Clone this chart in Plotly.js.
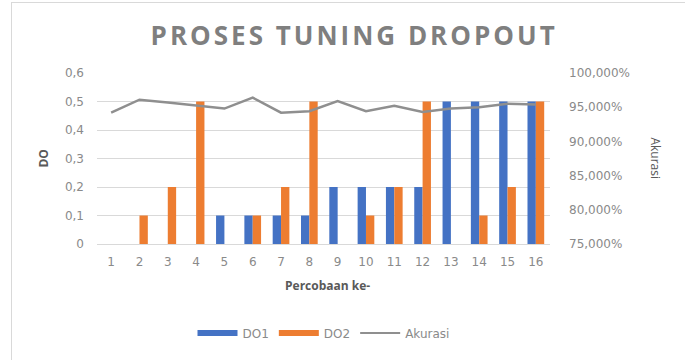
<!DOCTYPE html>
<html>
<head>
<meta charset="utf-8">
<script src="https://cdn.plot.ly/plotly-3.0.1.min.js"></script>
<style>
  html, body { margin: 0; padding: 0; background: #fff; }
  #chart { width: 685px; height: 360px; }
  #frame { position: absolute; left: 11px; top: 2px; width: 674px; height: 358px;
           border-top: 1px solid #d9d9d9; border-left: 1px solid #d9d9d9; pointer-events: none; }
  .gtitle { letter-spacing: 3px; }
</style>
</head>
<body>
<div id="chart"></div>
<div id="frame"></div>
<script>
const categories = ['1','2','3','4','5','6','7','8','9','10','11','12','13','14','15','16'];
const do1 = [0, 0, 0, 0, 0.1, 0.1, 0.1, 0.1, 0.2, 0.2, 0.2, 0.2, 0.5, 0.5, 0.5, 0.5];
const do2 = [0, 0.1, 0.2, 0.5, 0, 0.1, 0.2, 0.5, 0, 0.1, 0.2, 0.5, 0, 0.1, 0.2, 0.5];
const akurasi = [0.942, 0.961, 0.957, 0.952, 0.948, 0.964, 0.942, 0.944, 0.959, 0.944, 0.952, 0.943, 0.948, 0.950, 0.955, 0.954];
const seriesNames = ['DO1', 'DO2', 'Akurasi'];
const seriesColors = ['#4472c4', '#ed7d31', '#8f8f8f'];

const tickFont = { family: 'DejaVu Sans', size: 12, color: '#8a8a8a' };
const titleFont = { family: 'Open Sans', size: 12, color: '#595959', weight: 'bold' };

const traces = [
  { type: 'bar', name: seriesNames[0], x: categories, y: do1, marker: { color: seriesColors[0] }, yaxis: 'y', showlegend: false },
  { type: 'bar', name: seriesNames[1], x: categories, y: do2, marker: { color: seriesColors[1] }, yaxis: 'y', showlegend: false },
  { type: 'scatter', mode: 'lines', name: seriesNames[2], x: categories, y: akurasi,
    line: { color: seriesColors[2], width: 2.5 }, yaxis: 'y2', showlegend: false },
  // legend keys (Excel-style wide swatches)
  { type: 'scatter', mode: 'lines', name: seriesNames[0], x: [null], y: [null], line: { color: seriesColors[0], width: 6 }, hoverinfo: 'skip' },
  { type: 'scatter', mode: 'lines', name: seriesNames[1], x: [null], y: [null], line: { color: seriesColors[1], width: 6 }, hoverinfo: 'skip' },
  { type: 'scatter', mode: 'lines', name: seriesNames[2], x: [null], y: [null], line: { color: seriesColors[2], width: 2 }, hoverinfo: 'skip' }
];

const layout = {
  width: 685, height: 360,
  margin: { l: 97, r: 135, t: 73, b: 107 },
  paper_bgcolor: '#ffffff', plot_bgcolor: '#ffffff',
  barmode: 'group', bargap: 0.41, bargroupgap: 0,
  separators: ',.',
  showlegend: true,
  title: {
    text: 'PROSES TUNING DROPOUT',
    font: { family: 'Open Sans', size: 26, color: '#7f7f7f', weight: 'bold' },
    x: 0.517, xanchor: 'center', y: 0.9, yanchor: 'middle'
  },
  xaxis: {
    type: 'category', tickfont: tickFont, showgrid: false,
    showline: true, linecolor: '#d9d9d9', linewidth: 1,
    ticks: '', ticklabelstandoff: 7, fixedrange: true
  },
  yaxis: {
    range: [0, 0.6], dtick: 0.1, tickfont: tickFont,
    showgrid: true, gridcolor: '#d9d9d9', gridwidth: 1,
    zeroline: true, zerolinecolor: '#d9d9d9', zerolinewidth: 1,
    showline: false, ticks: '', ticklabelstandoff: 12
  },
  yaxis2: {
    overlaying: 'y', side: 'right', range: [0.75, 1.0], dtick: 0.05,
    tickformat: '.3%', tickfont: tickFont, showgrid: false, zeroline: false,
    showline: false, ticks: '', ticklabelstandoff: 18
  },
  legend: {
    orientation: 'h', x: 0.5, xanchor: 'center', y: -0.52, yanchor: 'middle',
    font: { family: 'DejaVu Sans', size: 12, color: '#8a8a8a' },
    itemwidth: 40, traceorder: 'normal'
  },
  annotations: [
    { text: 'DO', xref: 'paper', yref: 'paper', x: -0.119, y: 0.5, textangle: -90,
      showarrow: false, font: titleFont, xanchor: 'center', yanchor: 'middle' },
    { text: 'Akurasi', xref: 'paper', yref: 'paper', x: 1.232, y: 0.5, textangle: 90,
      showarrow: false, font: { family: 'Open Sans', size: 12, color: '#595959' }, xanchor: 'center', yanchor: 'middle' },
    { text: 'Percobaan ke-', xref: 'paper', yref: 'paper', x: 0.508, y: -0.245,
      showarrow: false, font: titleFont, xanchor: 'center', yanchor: 'middle' }
  ]
};

Plotly.newPlot('chart', traces, layout, { displayModeBar: false, staticPlot: true });
</script>
</body>
</html>
